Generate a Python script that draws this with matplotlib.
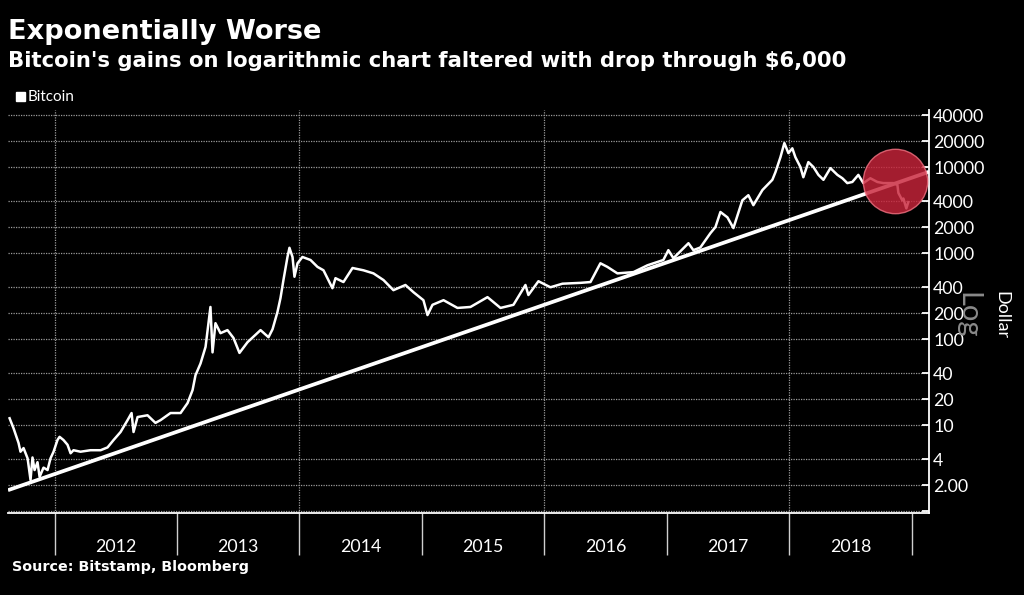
import matplotlib
matplotlib.use("Agg")
import matplotlib.pyplot as plt
from matplotlib.ticker import FixedLocator, NullFormatter

# Bitstamp price (decimal year, USD)
years = [2011.633, 2011.665, 2011.706, 2011.722, 2011.747, 2011.780, 2011.804, 2011.820,
         2011.837, 2011.861, 2011.878, 2011.910, 2011.943, 2011.967, 2011.992, 2012.024,
         2012.041, 2012.073, 2012.106, 2012.131, 2012.155, 2012.212, 2012.294, 2012.376,
         2012.433, 2012.482, 2012.539, 2012.596, 2012.629, 2012.645, 2012.678, 2012.759,
         2012.824, 2012.865, 2012.947, 2013.029, 2013.086, 2013.127, 2013.151, 2013.192,
         2013.233, 2013.273, 2013.290, 2013.314, 2013.355, 2013.412, 2013.461, 2013.510,
         2013.576, 2013.682, 2013.747, 2013.780, 2013.820, 2013.845, 2013.869, 2013.902,
         2013.918, 2013.943, 2013.959, 2013.984, 2014.024, 2014.090, 2014.147, 2014.196,
         2014.269, 2014.294, 2014.359, 2014.433, 2014.522, 2014.604, 2014.686, 2014.767,
         2014.865, 2014.931, 2015.012, 2015.045, 2015.086, 2015.176, 2015.290, 2015.396,
         2015.535, 2015.641, 2015.747, 2015.845, 2015.869, 2015.951, 2016.049, 2016.147,
         2016.294, 2016.376, 2016.457, 2016.514, 2016.596, 2016.727, 2016.841, 2016.971,
         2017.012, 2017.053, 2017.176, 2017.216, 2017.273, 2017.355, 2017.396, 2017.437,
         2017.494, 2017.543, 2017.616, 2017.665, 2017.706, 2017.780, 2017.861, 2017.886,
         2017.927, 2017.959, 2017.992, 2018.024, 2018.049, 2018.090, 2018.114, 2018.155,
         2018.196, 2018.237, 2018.278, 2018.335, 2018.392, 2018.433, 2018.473, 2018.514,
         2018.563, 2018.604, 2018.661, 2018.718, 2018.767, 2018.849, 2018.882, 2018.890,
         2018.922, 2018.931, 2018.955, 2018.971]
price = [12.0, 9.2, 6.2, 4.9, 5.4, 4.1, 2.3, 4.2,
         3.0, 3.7, 2.5, 3.2, 3.0, 4.1, 4.9, 6.7,
         7.3, 6.7, 5.9, 4.7, 5.1, 4.9, 5.1, 5.1,
         5.5, 6.7, 8.3, 11.4, 13.8, 8.3, 12.4, 13.0,
         10.6, 11.4, 13.8, 13.8, 18.0, 25.5, 38, 52,
         81, 236, 70, 153, 117, 127, 103, 69,
         92, 127, 105, 130, 206, 300, 485, 900,
         1150, 900, 530, 760, 900, 830, 690, 630,
         390, 510, 460, 670, 630, 580, 485, 370,
         425, 350, 283, 190, 250, 283, 230, 236,
         307, 230, 250, 425, 325, 470, 400, 440,
         450, 460, 760, 690, 580, 600, 720, 830,
         1080, 870, 1300, 1080, 1160, 1700, 2000, 3000,
         2600, 1950, 4100, 4700, 3600, 5400, 7100, 8700,
         13000, 19000, 14500, 16500, 13000, 10000, 7600, 11400,
         10000, 8100, 7100, 9700, 8100, 7400, 6500, 6700,
         8100, 6500, 7400, 6700, 6500, 6500, 6200, 5000,
         4100, 4300, 3300, 3900]

# exponential trend line end points
trend_years = [2011.62, 2019.14]
trend_price = [1.75, 8800]

# highlight circle over the breakdown
circle_year = 2018.865
circle_price = 6880

ytick_vals = [1, 2, 4, 10, 20, 40, 100, 200, 400, 1000, 2000, 4000, 10000, 20000, 40000]
ytick_labels = ['', '2.00', '4', '10', '20', '40', '100', '200', '400', '1000', '2000',
                '4000', '10000', '20000', '40000']
year_labels = [2012, 2013, 2014, 2015, 2016, 2017, 2018]

BG = 'black'
FG = 'white'
GRID = '#9a9a9a'

fig = plt.figure(figsize=(10.24, 5.95), dpi=100, facecolor=BG)
ax = fig.add_axes([8/1024, 1-513/595, (929-8)/1024, (513-110)/595], facecolor=BG)

ax.set_yscale('log')
ax.set_xlim(2011.62, 2019.14)
ax.set_ylim(0.95, 46000)

# dotted grid
for v in ytick_vals:
    ax.axhline(v, color=GRID, lw=0.9, ls=(0, (1, 1)), zorder=1)
for yr in [2012, 2014, 2016, 2018]:
    ax.axvline(yr, color=GRID, lw=0.9, ls=(0, (1, 1)), zorder=1)

ax.plot(trend_years, trend_price, color=FG, lw=2.7, solid_capstyle='butt', zorder=3)
ax.plot(years, price, color=FG, lw=1.8, zorder=3)

ax.scatter([circle_year], [circle_price], s=2150, color='#c8243a', alpha=0.82,
           edgecolors='#f07080', linewidths=1.0, zorder=4)

# spines
for s in ['top', 'left']:
    ax.spines[s].set_visible(False)
ax.spines['right'].set_color(FG)
ax.spines['bottom'].set_color(FG)
ax.spines['right'].set_linewidth(1.3)
ax.spines['bottom'].set_linewidth(1.3)

# y axis on the right
ax.yaxis.tick_right()
ax.yaxis.set_major_locator(FixedLocator(ytick_vals))
ax.set_yticklabels(ytick_labels)
ax.yaxis.set_minor_locator(FixedLocator([]))
ax.tick_params(axis='y', which='major', direction='in', length=5, width=1.3,
               colors=FG, labelsize=12.8, pad=3)
for t in ax.get_yticklabels():
    t.set_fontfamily('Lato')

# x axis: year boundaries as long ticks, labels centred between
ax.xaxis.set_minor_locator(FixedLocator([2012, 2013, 2014, 2015, 2016, 2017, 2018, 2019]))
ax.xaxis.set_minor_formatter(NullFormatter())
ax.set_xticks([y + 0.5 for y in year_labels])
ax.set_xticklabels([str(y) for y in year_labels], fontfamily='Lato')
ax.tick_params(axis='x', which='minor', direction='out', length=30, width=1.0, colors='#cfcfcf')
ax.tick_params(axis='x', which='major', length=0, pad=19, labelsize=12.8, labelcolor=FG)

# titles and notes
fig.text(8/1024, 1-32/595, 'Exponentially Worse', color=FG, fontsize=19.6,
         fontweight='bold', va='center', ha='left')
fig.text(8/1024, 1-61/595, "Bitcoin's gains on logarithmic chart faltered with drop through $6,000",
         color=FG, fontsize=15.2, fontweight='bold', va='center', ha='left')
fig.patches.append(plt.Rectangle((16/1024, 1-101/595), 9/1024, 9/595, color=FG,
                                 transform=fig.transFigure, figure=fig))
fig.text(28/1024, 1-97/595, 'Bitcoin', color=FG, fontsize=11, fontfamily='Lato',
         va='center', ha='left')
fig.text(12/1024, 1-567/595, 'Source: Bitstamp, Bloomberg', color=FG, fontsize=10.3,
         fontweight='bold', va='center', ha='left')
fig.text(967/1024, 1-315/595, 'Log', color='#8a8a8a', fontsize=21, fontfamily='Lato',
         rotation=270, va='center', ha='center')
fig.text(1001/1024, 1-315/595, 'Dollar', color=FG, fontsize=13, fontfamily='Lato',
         rotation=270, va='center', ha='center')

fig.savefig('out.png', dpi=100, facecolor=BG)
